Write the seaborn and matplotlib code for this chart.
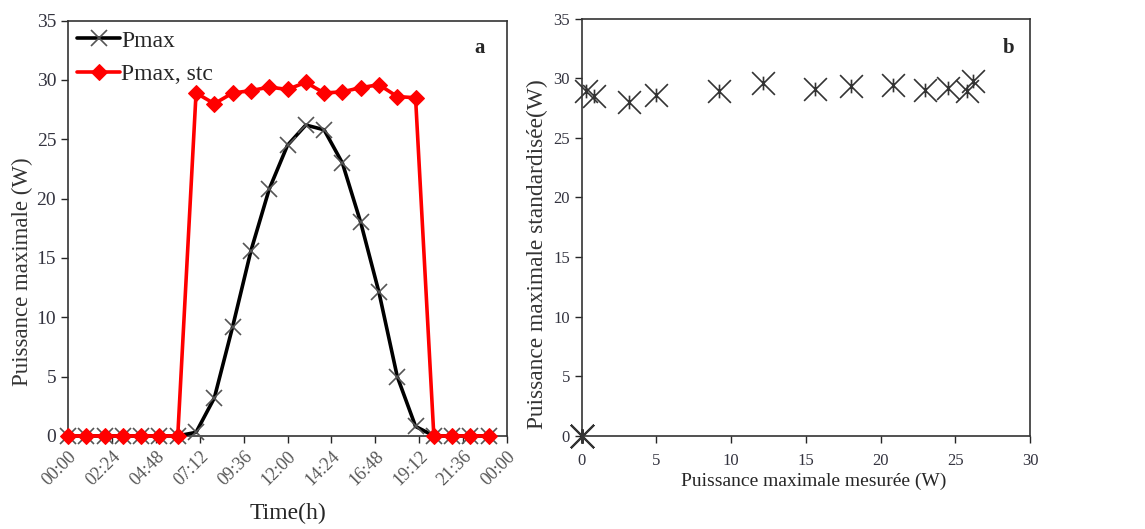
import numpy as np
import pandas as pd
import seaborn as sns
import matplotlib.pyplot as plt
from matplotlib.path import Path

# hourly data (h)
heures = list(range(24))
pmax = [0, 0, 0, 0, 0, 0, 0, 0.3, 3.2, 9.2, 15.6, 20.8, 24.5, 26.2, 25.8,
        23.0, 18.0, 12.1, 5.0, 0.8, 0, 0, 0, 0]
pmax_stc = [0, 0, 0, 0, 0, 0, 0, 28.9, 28.0, 28.9, 29.1, 29.4, 29.2, 29.8, 28.9,
            29.0, 29.35, 29.6, 28.6, 28.5, 0, 0, 0, 0]
heure_ticks = ["00:00", "02:24", "04:48", "07:12", "09:36", "12:00",
               "14:24", "16:48", "19:12", "21:36", "00:00"]

df = pd.DataFrame({"h": heures, "Pmax": pmax, "Pmax_stc": pmax_stc})

# asterisque (X + petit trait vertical)
asterisque = Path([(-1, -1), (1, 1), (-1, 1), (1, -1), (0, -0.6), (0, 0.6)],
                  [Path.MOVETO, Path.LINETO, Path.MOVETO, Path.LINETO,
                   Path.MOVETO, Path.LINETO])

sns.set_style("ticks")
plt.rcParams['font.family'] = ['Liberation Serif', 'DejaVu Serif']

fig = plt.figure(figsize=(11.45, 5.29), dpi=100)
ax1 = fig.add_axes([0.0594, 0.176, 0.3834, 0.785])
ax2 = fig.add_axes([0.508, 0.176, 0.3916, 0.789])

tick_col = '#33333f'

# --- a ---
sns.lineplot(data=df, x="h", y="Pmax", ax=ax1, color='black', lw=2.6,
             marker='x', markersize=12, markeredgecolor='#555555',
             markeredgewidth=1.2, label='Pmax', clip_on=False, zorder=3)
sns.lineplot(data=df, x="h", y="Pmax_stc", ax=ax1, color='#ff0000', lw=2.6,
             marker='D', markersize=8, markeredgecolor='#ff0000',
             label='Pmax, stc', clip_on=False, zorder=4)
ax1.set_xlim(0, 24)
ax1.set_ylim(0, 35)
ax1.set_xticks(np.linspace(0, 24, len(heure_ticks)))
ax1.set_xticklabels(heure_ticks, rotation=45, ha='right', rotation_mode='anchor',
                    fontsize=13, color='#555555')
ax1.set_yticks(range(0, 36, 5))
ax1.tick_params(axis='y', labelsize=14, labelcolor=tick_col)
ax1.tick_params(direction='out', length=5, width=1)
ax1.set_xlabel("Time(h)", fontsize=17, labelpad=10)
ax1.set_ylabel("Puissance maximale (W)", fontsize=16.5, color='#333333')
ax1.yaxis.set_label_coords(-0.08, 0.395)
ax1.text(0.95, 0.935, "a", transform=ax1.transAxes, fontsize=15,
         fontweight='bold', ha='right', va='center')
leg = ax1.legend(loc='upper left', frameon=False, fontsize=17,
                 handlelength=1.8, handletextpad=0.05, borderaxespad=0.1,
                 borderpad=0.3, labelspacing=0.5)
for s in ax1.spines.values():
    s.set_color('#333333')
    s.set_linewidth(1.2)

# --- b ---
sns.scatterplot(data=df, x="Pmax", y="Pmax_stc", ax=ax2, marker=asterisque,
                s=270, color='#333333', edgecolor='#333333', linewidth=1.2,
                clip_on=False, zorder=3)
ax2.set_xlim(0, 30)
ax2.set_ylim(0, 35)
ax2.set_xticks(range(0, 31, 5))
ax2.set_yticks(range(0, 36, 5))
ax2.tick_params(labelsize=12, labelcolor=tick_col, direction='out',
                length=5, width=1)
ax2.tick_params(axis='x', pad=7)
ax2.set_xlabel("Puissance maximale mesurée (W)", fontsize=14)
ax2.xaxis.set_label_coords(0.518, -0.0885)
ax2.set_ylabel("Puissance maximale standardisée(W)", fontsize=16.8,
               color='#333333')
ax2.yaxis.set_label_coords(-0.074, 0.435)
ax2.text(0.965, 0.93, "b", transform=ax2.transAxes, fontsize=15,
         fontweight='bold', ha='right', va='center')
for s in ax2.spines.values():
    s.set_color('#333333')
    s.set_linewidth(1.2)

fig.savefig("out.png", dpi=100)
